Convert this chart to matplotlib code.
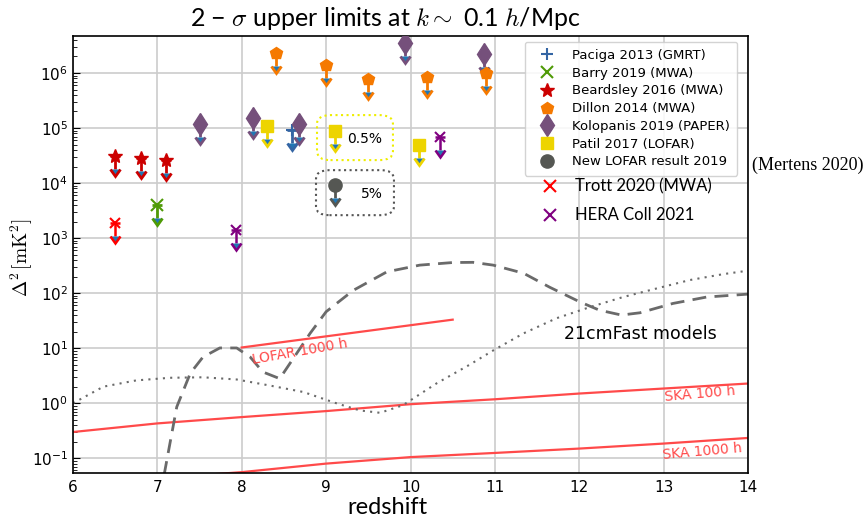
import numpy as np
import matplotlib
matplotlib.use("Agg")
import matplotlib.pyplot as plt
from matplotlib.patches import FancyBboxPatch

# ---------------- data ----------------
paciga_z = [8.6]
paciga_y = [9.2e4]
barry_z = [7.0]
barry_y = [4.0e3]
beardsley_z = [6.5, 6.8, 7.1]
beardsley_y = [3.1e4, 2.9e4, 2.6e4]
dillon_z = [8.4, 9.0, 9.5, 10.2, 10.9]
dillon_y = [2.3e6, 1.4e6, 7.7e5, 8.6e5, 1.0e6]
kolopanis_z = [7.5, 8.13, 8.68, 9.93, 10.87]
kolopanis_y = [1.17e5, 1.5e5, 1.17e5, 3.5e6, 2.2e6]
patil_z = [8.3, 9.1, 10.1]
patil_y = [1.1e5, 8.8e4, 4.9e4]
lofar_z = [9.1]
lofar_y = [9.1e3]
trott_z = [6.5]
trott_y = [1.9e3]
hera_z = [7.93, 10.35]
hera_y = [1.4e3, 6.9e4]

ska100_z = [6, 7, 8, 9, 10, 11, 12, 13, 14]
ska100_y = [0.30, 0.43, 0.56, 0.72, 0.96, 1.18, 1.5, 1.85, 2.28]
ska1000_z = [6, 7, 8, 9, 10, 11, 12, 13, 14]
ska1000_y = [0.030, 0.043, 0.056, 0.08, 0.105, 0.125, 0.15, 0.185, 0.234]
lofar1000_z = [8.0, 10.5]
lofar1000_y = [10.3, 33.0]

dash_z = [7.08, 7.15, 7.23, 7.39, 7.54, 7.74, 7.94, 8.10, 8.25, 8.45, 8.65, 8.81,
          9.0, 9.32, 9.72, 10.11, 10.5, 10.74, 10.98, 11.34, 11.65, 12.01, 12.24,
          12.5, 12.72, 13.11, 13.51, 14.0]
dash_y = [0.05, 0.19, 0.86, 3.5, 6.9, 10.1, 10.1, 6.9, 3.7, 2.8, 8.0, 18.6,
          46, 112, 244, 323, 360, 363, 323, 230, 128, 69, 49,
          40, 44, 65, 85, 96]
dot_z = [6.0, 6.36, 6.75, 7.15, 7.54, 7.94, 8.33, 8.73, 9.12, 9.40, 9.64, 9.91,
         10.31, 10.70, 10.98, 11.34, 11.73, 12.13, 12.52, 12.92, 13.31, 13.71, 14.0]
dot_y = [1.0, 2.0, 2.6, 2.9, 2.96, 2.7, 2.1, 1.6, 1.0, 0.74, 0.67, 0.92,
         2.3, 5.0, 9.1, 18.6, 35, 56, 85, 122, 173, 222, 256]

# ---------------- style ----------------
ARROW_FRAC = 0.42
C_PACIGA = '#3465a4'
C_BARRY = '#4e9a06'
C_BEARD = '#cc0000'
C_DILLON = '#f57900'
C_KOLO = '#75507b'
C_PATIL = '#edd400'
C_LOFAR = '#555753'
C_TROTT = '#ff0000'
C_HERA = '#800080'
C_LINE = '#ff4a4a'

fig = plt.figure(figsize=(8.68, 5.23), dpi=100)
ax = fig.add_axes([73/868, 1-473/523, 675/868, 437/523])
ax.set_yscale('log')
ax.set_xlim(6, 14)
ax.set_ylim(0.054, 4.7e6)
ax.grid(True, which='major', color='#cccccc', lw=1.2, zorder=0)
ax.set_axisbelow(True)


def limits(z, y, color, marker, ms, label=None, mew=1.0, elw=2.0, cap=3.5):
    z = np.asarray(z)
    y = np.asarray(y)
    ax.errorbar(z, y, yerr=y * ARROW_FRAC, uplims=True, fmt='none',
                ecolor=color, elinewidth=elw, capsize=cap, capthick=elw, zorder=3)
    h, = ax.plot(z, y, ls='none', marker=marker, ms=ms, color=color,
                 mec=color, mew=mew, label=label, zorder=4)
    return h


h1 = limits(paciga_z, paciga_y, C_PACIGA, '+', 9, 'Paciga 2013 (GMRT)', mew=1.5)
h2 = limits(barry_z, barry_y, C_BARRY, 'x', 8, 'Barry 2019 (MWA)', mew=1.5)
h3 = limits(beardsley_z, beardsley_y, C_BEARD, '*', 10, 'Beardsley 2016 (MWA)')
h4 = limits(dillon_z, dillon_y, C_DILLON, 'p', 9, 'Dillon 2014 (MWA)')
h5 = limits(kolopanis_z, kolopanis_y, C_KOLO, 'd', 11.5, 'Kolopanis 2019 (PAPER)')
h6 = limits(patil_z, patil_y, C_PATIL, 's', 8.5, 'Patil 2017 (LOFAR)')
h7 = limits(lofar_z, lofar_y, C_LOFAR, 'o', 9.5, 'New LOFAR result 2019')
limits(trott_z, trott_y, C_TROTT, 'x', 7, mew=1.5, elw=1.8, cap=3.5)
limits(hera_z, hera_y, C_HERA, 'x', 7, mew=1.5, elw=1.8, cap=3.5)

# model lines
ax.plot(ska100_z, ska100_y, color=C_LINE, lw=1.6, zorder=2)
ax.plot(ska1000_z, ska1000_y, color=C_LINE, lw=1.6, zorder=2)
ax.plot(lofar1000_z, lofar1000_y, color=C_LINE, lw=1.6, zorder=2)
ax.plot(dash_z, dash_y, color='#6a6a6a', lw=2.0, ls=(0, (5, 3)), zorder=2)
ax.plot(dot_z, dot_y, color='#6a6a6a', lw=1.5, ls=(0, (1, 2.5)), zorder=2)

ax.text(8.69, 8.6, 'LOFAR 1000 h', color=C_LINE, fontsize=10, rotation=10,
        ha='center', va='center')
ax.text(13.43, 1.45, 'SKA 100 h', color=C_LINE, fontsize=10, rotation=5,
        ha='center', va='center')
ax.text(13.46, 0.134, 'SKA 1000 h', color=C_LINE, fontsize=10, rotation=5,
        ha='center', va='center')
ax.text(12.72, 18, '21cmFast models', color='black', fontsize=12.5,
        ha='center', va='center')

# dotted boxes
b1 = FancyBboxPatch((0.3615, 0.716), 0.1125, 0.103, transform=ax.transAxes,
                    boxstyle='round,pad=0,rounding_size=0.02', fc='none',
                    ec='#eeee00', ls=':', lw=1.5, zorder=5)
b2 = FancyBboxPatch((0.3600, 0.590), 0.1155, 0.103, transform=ax.transAxes,
                    boxstyle='round,pad=0,rounding_size=0.02', fc='none',
                    ec='#555555', ls=':', lw=1.5, zorder=5)
ax.add_patch(b1)
ax.add_patch(b2)
ax.text(0.4326, 0.764, '0.5%', transform=ax.transAxes, fontsize=10,
        ha='center', va='center')
ax.text(0.443, 0.638, '5%', transform=ax.transAxes, fontsize=10,
        ha='center', va='center')

# legend
leg = ax.legend(handles=[h1, h2, h3, h4, h5, h6, h7], loc='upper left',
                bbox_to_anchor=(0.669, 0.987), borderaxespad=0, fontsize=9.5,
                numpoints=1, labelspacing=0.36, handlelength=2.3, borderpad=0.55,
                handletextpad=0.75, framealpha=0.85, edgecolor='#cccccc',
                fancybox=True)

# extra legend-like items
ax.plot([0.7067], [0.6568], transform=ax.transAxes, ls='none', marker='x',
        ms=8, mew=1.5, color=C_TROTT, clip_on=False)
ax.plot([0.7067], [0.590], transform=ax.transAxes, ls='none', marker='x',
        ms=8, mew=1.5, color=C_HERA, clip_on=False)
ax.text(0.7437, 0.6568, 'Trott 2020 (MWA)', transform=ax.transAxes,
        fontsize=12, family='Lato', va='center', ha='left')
ax.text(0.7437, 0.590, 'HERA Coll 2021', transform=ax.transAxes,
        fontsize=12, family='Lato', va='center', ha='left')
ax.text(1.006, 0.705, '(Mertens 2020)', transform=ax.transAxes,
        fontsize=13, family='Liberation Serif', va='center', ha='left')

# ticks
ax.set_xticks([6, 7, 8, 9, 10, 11, 12, 13, 14])
ax.tick_params(axis='both', which='both', direction='in', labelsize=11)
ax.tick_params(axis='y', which='major', length=5)
ax.tick_params(axis='y', which='minor', length=3)
ax.tick_params(axis='x', which='major', length=0, pad=5)
for s in ax.spines.values():
    s.set_color('black')
    s.set_linewidth(1.2)

# labels
fig.text(385/868, 1-18/523, r'2 − $\sigma$ upper limits at $k\sim$ 0.1 $h$/Mpc',
         fontsize=18, family='Lato', math_fontfamily='cm', ha='center', va='center')
fig.text(387/868, 1-507/523, 'redshift', fontsize=17, family='Lato',
         ha='center', va='center')
fig.text(22/868, 1-258/523, r'$\Delta^2\,[\mathrm{mK}^2]$', fontsize=14,
         math_fontfamily='cm', rotation=90, ha='center', va='center')

fig.savefig('out.png', dpi=100)
